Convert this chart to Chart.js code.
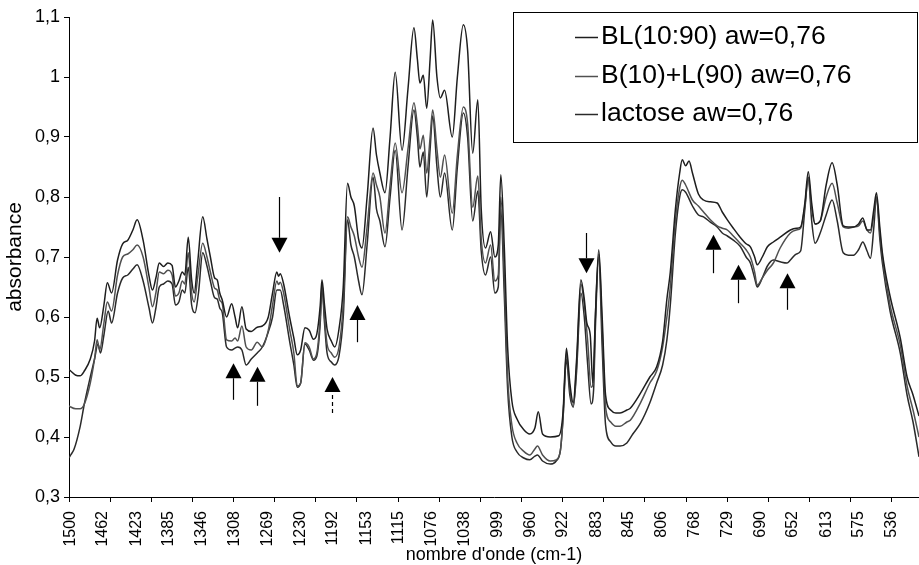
<!DOCTYPE html>
<html><head><meta charset="utf-8">
<script src="https://cdn.jsdelivr.net/npm/chart.js@4.4.1/dist/chart.umd.min.js"></script>
<style>html,body{margin:0;padding:0;background:#fff}#wrap{width:919px;height:565px;position:relative}</style>
</head><body><div id="wrap"><canvas id="c" width="919" height="565"></canvas></div>
<script>
// ---------- data ----------
const seriesNames = ['BL(10:90) aw=0,76', 'B(10)+L(90) aw=0,76', 'lactose aw=0,76'];
const xTickLabels = [1500,1462,1423,1385,1346,1308,1269,1230,1192,1153,1115,1076,1038,999,960,922,883,845,806,768,729,690,652,613,575,536];
const xMax = 1502, xMin = 504;
const yMin = 0.3, yMax = 1.1, yStep = 0.1;

const seriesA = [[1502,0.512],[1500,0.51],[1494,0.503],[1489,0.502],[1484,0.51],[1477,0.53],[1472,0.56],[1469,0.598],[1466,0.582],[1461,0.62],[1457,0.657],[1452,0.64],[1445,0.695],[1439,0.722],[1433,0.728],[1427,0.745],[1422,0.762],[1415,0.728],[1408,0.668],[1404,0.645],[1400,0.665],[1396,0.69],[1391,0.684],[1386,0.69],[1381,0.686],[1377,0.65],[1373,0.66],[1369,0.675],[1366,0.67],[1362,0.733],[1358,0.662],[1355,0.64],[1351,0.69],[1345,0.767],[1340,0.73],[1336,0.70],[1331,0.665],[1328,0.662],[1325,0.64],[1322,0.628],[1317,0.60],[1311,0.622],[1307,0.60],[1304,0.582],[1299,0.617],[1294,0.58],[1288,0.576],[1281,0.583],[1275,0.585],[1268,0.60],[1263,0.64],[1258,0.675],[1256,0.668],[1254,0.672],[1250,0.655],[1243,0.60],[1238,0.565],[1234,0.537],[1230,0.545],[1225,0.582],[1220,0.578],[1215,0.563],[1211,0.572],[1207,0.62],[1205,0.662],[1202,0.62],[1199,0.58],[1194,0.56],[1190,0.55],[1185,0.58],[1180,0.65],[1175,0.823],[1171,0.80],[1167,0.785],[1162,0.73],[1158,0.715],[1152,0.80],[1145,0.915],[1141,0.87],[1137,0.84],[1131,0.807],[1125,0.90],[1119,1.008],[1111,0.878],[1104,0.98],[1097,1.082],[1093,1.03],[1090,0.99],[1086,1.003],[1082,0.948],[1078,1.03],[1075,1.095],[1070,1.0],[1066,0.965],[1061,0.978],[1052,0.90],[1046,1.0],[1039,1.087],[1034,1.045],[1028,0.873],[1022,0.962],[1018,0.78],[1013,0.715],[1007,0.742],[1002,0.70],[998,0.72],[995,0.837],[991,0.72],[987,0.55],[982,0.46],[976,0.43],[968,0.412],[961,0.405],[955,0.415],[951,0.442],[946,0.405],[937,0.40],[927,0.402],[922,0.44],[918,0.548],[914,0.49],[910,0.457],[906,0.53],[901,0.662],[897,0.63],[894,0.59],[890,0.57],[887,0.49],[884,0.60],[880,0.712],[876,0.60],[872,0.47],[866,0.445],[860,0.44],[855,0.44],[847,0.445],[843,0.448],[831,0.473],[820,0.50],[812,0.517],[805,0.56],[800,0.63],[796,0.675],[790,0.78],[785,0.84],[782,0.862],[778,0.852],[774,0.86],[770,0.84],[763,0.805],[757,0.795],[749,0.792],[741,0.79],[735,0.775],[729,0.762],[722,0.748],[714,0.733],[707,0.722],[702,0.717],[697,0.70],[694,0.687],[688,0.70],[682,0.717],[675,0.725],[667,0.733],[655,0.745],[648,0.748],[643,0.75],[638,0.79],[634,0.842],[630,0.79],[626,0.755],[620,0.76],[613,0.82],[606,0.857],[600,0.82],[593,0.752],[587,0.75],[581,0.75],[575,0.755],[570,0.765],[565,0.745],[561,0.745],[557,0.78],[554,0.807],[550,0.75],[547,0.707],[538,0.635],[526,0.565],[518,0.50],[511,0.47],[504,0.435]];

const seriesB = [[1502,0.452],[1500,0.45],[1494,0.447],[1489,0.447],[1484,0.455],[1477,0.49],[1472,0.53],[1469,0.562],[1466,0.545],[1461,0.59],[1457,0.625],[1452,0.61],[1445,0.67],[1439,0.70],[1433,0.705],[1427,0.712],[1422,0.72],[1415,0.70],[1408,0.648],[1404,0.617],[1400,0.64],[1396,0.675],[1391,0.672],[1386,0.678],[1381,0.67],[1377,0.635],[1373,0.64],[1369,0.66],[1366,0.655],[1362,0.707],[1358,0.64],[1355,0.625],[1351,0.665],[1345,0.723],[1340,0.70],[1336,0.675],[1331,0.648],[1328,0.645],[1325,0.628],[1322,0.622],[1317,0.562],[1311,0.56],[1307,0.565],[1304,0.56],[1299,0.585],[1294,0.55],[1288,0.545],[1281,0.558],[1275,0.55],[1268,0.578],[1263,0.62],[1258,0.66],[1256,0.654],[1254,0.658],[1250,0.64],[1243,0.58],[1238,0.54],[1234,0.485],[1230,0.49],[1225,0.557],[1220,0.55],[1215,0.53],[1211,0.54],[1207,0.60],[1205,0.655],[1202,0.60],[1199,0.555],[1194,0.54],[1190,0.533],[1185,0.55],[1180,0.62],[1175,0.767],[1171,0.75],[1167,0.735],[1162,0.70],[1158,0.683],[1152,0.75],[1145,0.84],[1141,0.82],[1137,0.80],[1131,0.74],[1125,0.82],[1119,0.89],[1111,0.807],[1104,0.88],[1097,0.957],[1093,0.92],[1090,0.88],[1086,0.903],[1082,0.84],[1078,0.90],[1075,0.945],[1070,0.88],[1066,0.833],[1061,0.87],[1052,0.773],[1046,0.87],[1039,0.95],[1034,0.923],[1028,0.783],[1022,0.835],[1018,0.73],[1013,0.69],[1007,0.72],[1002,0.66],[998,0.67],[995,0.80],[991,0.67],[987,0.50],[982,0.42],[976,0.39],[968,0.376],[961,0.37],[955,0.38],[952,0.385],[946,0.37],[937,0.36],[930,0.362],[925,0.378],[922,0.43],[918,0.54],[914,0.48],[910,0.45],[906,0.52],[901,0.655],[897,0.62],[893,0.56],[889,0.483],[886,0.50],[884,0.60],[880,0.705],[876,0.58],[872,0.45],[866,0.425],[860,0.418],[855,0.418],[847,0.425],[843,0.428],[831,0.457],[820,0.49],[812,0.51],[805,0.55],[800,0.60],[796,0.65],[790,0.76],[785,0.815],[782,0.828],[778,0.82],[770,0.795],[763,0.785],[757,0.775],[749,0.762],[741,0.752],[735,0.748],[729,0.745],[722,0.735],[714,0.723],[707,0.712],[702,0.70],[697,0.675],[694,0.653],[688,0.665],[682,0.678],[675,0.69],[667,0.715],[655,0.74],[648,0.745],[643,0.748],[638,0.785],[634,0.833],[630,0.78],[626,0.755],[620,0.76],[613,0.80],[606,0.823],[600,0.79],[593,0.75],[587,0.748],[581,0.75],[575,0.752],[570,0.76],[565,0.745],[561,0.74],[557,0.77],[554,0.80],[550,0.74],[547,0.70],[538,0.62],[526,0.553],[518,0.485],[511,0.445],[504,0.40]];

const seriesC = [[1502,0.365],[1500,0.37],[1496,0.38],[1489,0.417],[1484,0.455],[1477,0.50],[1472,0.53],[1468,0.555],[1465,0.54],[1461,0.57],[1456,0.61],[1452,0.59],[1445,0.64],[1439,0.665],[1433,0.67],[1427,0.68],[1422,0.687],[1415,0.66],[1408,0.615],[1404,0.59],[1400,0.615],[1396,0.65],[1391,0.655],[1386,0.66],[1381,0.655],[1377,0.62],[1373,0.625],[1369,0.645],[1366,0.64],[1362,0.683],[1358,0.62],[1354,0.607],[1350,0.64],[1345,0.707],[1340,0.685],[1336,0.66],[1331,0.632],[1328,0.63],[1325,0.615],[1322,0.607],[1317,0.55],[1311,0.545],[1307,0.548],[1304,0.55],[1299,0.545],[1294,0.52],[1288,0.53],[1281,0.54],[1275,0.55],[1268,0.575],[1263,0.60],[1258,0.645],[1254,0.645],[1250,0.62],[1243,0.56],[1238,0.52],[1234,0.483],[1230,0.49],[1225,0.555],[1220,0.545],[1215,0.528],[1211,0.535],[1207,0.59],[1205,0.65],[1202,0.59],[1199,0.54],[1194,0.525],[1190,0.52],[1185,0.535],[1180,0.60],[1175,0.762],[1171,0.72],[1167,0.70],[1162,0.66],[1158,0.637],[1152,0.72],[1145,0.833],[1141,0.78],[1137,0.76],[1131,0.717],[1125,0.80],[1119,0.878],[1111,0.745],[1104,0.85],[1097,0.945],[1093,0.90],[1090,0.85],[1086,0.875],[1082,0.80],[1078,0.88],[1075,0.935],[1070,0.85],[1066,0.80],[1061,0.84],[1052,0.745],[1046,0.85],[1039,0.94],[1034,0.90],[1028,0.76],[1022,0.81],[1018,0.71],[1013,0.67],[1007,0.70],[1002,0.64],[998,0.65],[995,0.78],[991,0.64],[987,0.48],[982,0.40],[976,0.375],[968,0.365],[961,0.362],[955,0.368],[952,0.37],[946,0.36],[937,0.355],[930,0.36],[925,0.378],[922,0.43],[918,0.53],[914,0.47],[910,0.45],[906,0.51],[901,0.64],[897,0.60],[893,0.52],[889,0.455],[886,0.48],[884,0.58],[880,0.70],[876,0.55],[872,0.42],[866,0.392],[860,0.385],[855,0.385],[847,0.39],[840,0.405],[831,0.423],[820,0.457],[812,0.49],[805,0.52],[800,0.562],[796,0.62],[790,0.74],[785,0.80],[782,0.812],[778,0.808],[770,0.785],[763,0.77],[757,0.767],[749,0.758],[741,0.75],[735,0.74],[729,0.735],[722,0.728],[714,0.718],[707,0.70],[702,0.69],[697,0.665],[694,0.65],[688,0.665],[682,0.685],[675,0.695],[667,0.692],[659,0.69],[655,0.695],[648,0.705],[643,0.71],[638,0.78],[634,0.832],[630,0.76],[626,0.723],[620,0.74],[613,0.77],[606,0.795],[600,0.76],[593,0.707],[587,0.703],[581,0.703],[575,0.712],[570,0.725],[565,0.71],[561,0.698],[557,0.75],[554,0.80],[550,0.73],[547,0.69],[538,0.61],[526,0.54],[518,0.47],[511,0.425],[504,0.367]];

// annotation arrows (wavenumber, tail absorbance, tip absorbance)
const arrowX    = [1310, 1281, 1193, 1164, 1255, 895, 746, 716, 659];
const arrowTail = [0.462, 0.452, 0.44, 0.558, 0.80, 0.74, 0.673, 0.623, 0.612];
const arrowTip  = [0.523, 0.517, 0.50, 0.62, 0.707, 0.673, 0.737, 0.687, 0.673];
const arrowDash = [false, false, true, false, false, false, false, false, false];

// ---------- chart ----------
const FONT = "'Liberation Sans', Arial, sans-serif";
Chart.defaults.font.family = FONT;
Chart.defaults.color = '#000';

const lineColors = ['#1e1e1e', '#505050', '#2a2a2a'];
const allSeries = [seriesA, seriesB, seriesC];
const markStep = (xMax - xTickLabels[xTickLabels.length - 1]) / 20;
const markValues = Array.from({length: 21}, (_, k) => xMax - k * markStep);

const arrowPlugin = {
  id: 'arrows',
  afterDatasetsDraw(chart) {
    const {ctx, scales: {x, y}} = chart;
    ctx.save();
    ctx.strokeStyle = '#000'; ctx.fillStyle = '#000'; ctx.lineWidth = 1.2;
    arrowX.forEach((wn, i) => {
      const px = Math.round(x.getPixelForValue(wn)) + 0.5;
      const p1 = y.getPixelForValue(arrowTail[i]);
      const p2 = y.getPixelForValue(arrowTip[i]);
      const dir = p2 > p1 ? 1 : -1;
      const head = 15, hw = 8;
      ctx.setLineDash(arrowDash[i] ? [4, 3] : []);
      ctx.beginPath(); ctx.moveTo(px, p1); ctx.lineTo(px, p2 - dir * head); ctx.stroke();
      ctx.setLineDash([]);
      ctx.beginPath();
      ctx.moveTo(px, p2);
      ctx.lineTo(px - hw, p2 - dir * head);
      ctx.lineTo(px + hw, p2 - dir * head);
      ctx.closePath(); ctx.fill();
    });
    ctx.restore();
  }
};

const legendPlugin = {
  id: 'boxLegend',
  afterDraw(chart) {
    const ctx = chart.ctx;
    const box = {l: 513.5, t: 12.5, r: 917.5, b: 142.5};
    ctx.save();
    ctx.fillStyle = '#fff';
    ctx.fillRect(box.l, box.t, box.r - box.l, box.b - box.t);
    ctx.strokeStyle = '#000'; ctx.lineWidth = 1;
    ctx.strokeRect(box.l, box.t, box.r - box.l, box.b - box.t);
    ctx.font = "26.5px " + FONT;
    ctx.textBaseline = 'middle';
    chart.data.datasets.forEach((ds, i) => {
      const cy = 37 + i * 38.5;
      ctx.strokeStyle = ds.borderColor; ctx.lineWidth = 1.5;
      ctx.beginPath(); ctx.moveTo(575, Math.round(cy) + 0.5); ctx.lineTo(598, Math.round(cy) + 0.5); ctx.stroke();
      ctx.fillStyle = '#000';
      ctx.fillText(ds.label, 601, cy);
    });
    ctx.restore();
  }
};

new Chart(document.getElementById('c'), {
  type: 'line',
  data: {
    datasets: allSeries.map((s, i) => ({
      label: seriesNames[i],
      data: s.map(([wn, a]) => ({x: wn, y: a})),
      borderColor: lineColors[i],
      borderWidth: 1.5,
      pointRadius: 0,
      fill: false,
      cubicInterpolationMode: 'monotone'
    }))
  },
  options: {
    responsive: false,
    animation: false,
    devicePixelRatio: 1,
    layout: {padding: {top: 17, right: 0, bottom: 0, left: 0}},
    plugins: {legend: {display: false}, tooltip: {enabled: false}},
    scales: {
      x: {
        type: 'linear', reverse: true, min: xMin, max: xMax, position: 'bottom', weight: 1,
        afterBuildTicks: ax => { ax.ticks = xTickLabels.map(v => ({value: v})); },
        afterFit: ax => { ax.height = 63; },
        ticks: {autoSkip: false, minRotation: 90, maxRotation: 90, padding: 1,
                font: {size: 16}, color: '#000', callback: v => String(v)},
        grid: {display: false},
        border: {display: false},
        title: {display: true, text: "nombre d'onde (cm-1)", color: '#000',
                font: {size: 18, lineHeight: 1}, padding: {top: 0, bottom: 1}}
      },
      xt: {
        type: 'linear', reverse: true, min: xMin, max: xMax, position: 'bottom', weight: 0,
        afterBuildTicks: ax => { ax.ticks = markValues.map(v => ({value: v})); },
        afterFit: ax => { ax.height = 5; },
        ticks: {display: false},
        grid: {drawOnChartArea: false, drawTicks: true, tickLength: 5, color: '#000', lineWidth: 1},
        border: {display: true, color: '#000', width: 1}
      },
      y: {
        type: 'linear', min: yMin, max: yMax, position: 'left',
        afterFit: ax => { ax.width = 69; },
        ticks: {stepSize: yStep, padding: 4, font: {size: 18}, color: '#000',
                callback: v => String(Math.round(v * 10) / 10).replace('.', ',')},
        grid: {drawOnChartArea: false, drawTicks: true, tickLength: 5, color: '#000'},
        border: {display: true, color: '#000', width: 1},
        title: {display: true, text: 'absorbance', color: '#000',
                font: {size: 21, lineHeight: 1}, padding: {top: 5, bottom: 0}}
      }
    }
  },
  plugins: [arrowPlugin, legendPlugin]
});
</script>
</body></html>
